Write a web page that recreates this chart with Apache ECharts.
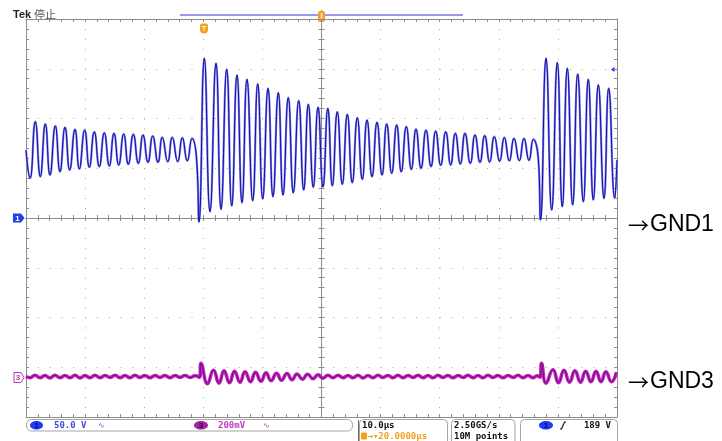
<!DOCTYPE html>
<html><head><meta charset="utf-8">
<script src="https://cdn.jsdelivr.net/npm/echarts@6/dist/echarts.min.js"></script>
<style>html,body{margin:0;padding:0;background:#fff}#c{width:722px;height:441px}</style>
</head><body><div id="c"></div>
<script>
// ---- Data ----
// Time in µs relative to trigger (screen spans -30 .. 70 µs, 10 µs/div)
const ch1VoltsPerDiv = 50;      // CH1 50.0 V/div, ground on centre line
const ch1GroundDiv = 0;
const ch3MilliVoltsPerDiv = 200; // CH3 200 mV/div
const ch3GroundDiv = -3.2;

const ch1Time = [-30.00,-29.32,-28.43,-27.58,-26.73,-25.94,-25.04,-24.25,-23.40,-22.61,
 -21.71,-20.98,-20.07,-19.29,-18.44,-17.60,-16.75,-15.91,-15.11,-14.31,
 -13.47,-12.69,-11.84,-11.00,-10.20,-9.36,-8.56,-7.66,-6.94,-6.02,
 -5.25,-4.33,-3.55,-2.71,-1.91,-1.15,-0.73,0.17,
 1.13,2.15,3.00,3.96,4.81,5.70,6.55,7.39,8.36,9.21,
 10.05,10.95,11.79,12.69,13.49,14.38,15.23,16.14,16.99,17.77,
 18.61,19.41,20.25,21.07,21.83,22.67,23.52,24.37,25.21,26.06,
 26.90,27.70,28.55,29.39,30.24,31.03,31.88,32.72,33.50,34.35,
 35.20,35.99,36.84,37.68,38.53,39.32,40.17,41.02,41.86,42.64,
 43.49,44.28,45.18,45.97,46.82,47.61,48.46,49.24,50.15,50.93,
 51.78,52.57,53.47,54.26,55.11,55.84,56.68,57.06,57.99,
 58.95,59.90,60.74,61.59,62.50,63.35,64.30,65.14,65.99,66.84,
 67.80,68.60,69.61,70.00];
const ch1Volt = [68.3,39.9,96.8,41.5,94.5,43.2,92.5,46.5,91.2,48.2,
 89.1,49.2,88.4,51.0,86.7,51.6,85.7,52.3,85.1,53.3,
 84.4,54.0,84.1,55.0,83.4,56.0,82.4,56.0,81.1,56.6,
 81.1,56.6,80.7,57.3,80.1,60.3,-4.0,160.5,
 6.3,155.5,8.7,149.4,12.1,143.7,15.4,139.4,17.4,134.7,
 19.1,130.3,21.4,125.9,23.1,120.9,25.4,117.9,28.1,114.3,
 30.9,111.3,31.2,110.2,32.4,106.8,33.9,104.2,35.5,100.8,
 38.9,98.5,41.5,96.2,43.2,94.5,44.9,93.5,46.5,91.8,
 48.9,89.4,49.9,88.4,51.6,87.4,53.0,86.7,53.3,85.1,
 54.3,85.1,55.0,83.4,56.0,82.7,56.3,81.7,57.0,81.1,
 57.3,80.1,57.6,80.1,58.0,79.1,60.0,-2.0,160.5,
 8.0,156.1,11.4,150.4,13.1,144.7,16.4,139.4,18.1,133.7,
 19.8,130.3,20.1,58.3];

const ch3Time = [-30.00,-29.32,-28.48,-27.63,-26.79,-25.94,-25.09,-24.25,-23.40,-22.55,
 -21.71,-20.86,-20.02,-19.17,-18.32,-17.48,-16.63,-15.79,-14.94,-14.09,
 -13.25,-12.40,-11.56,-10.71,-9.86,-9.02,-8.17,-7.33,-6.48,-5.63,
 -4.79,-3.94,-3.10,-2.25,-1.40,-0.64,-0.39,
 0.71,1.73,2.66,3.50,4.43,5.28,6.21,7.06,7.99,8.83,
 9.76,10.61,11.46,12.39,13.23,14.16,15.01,15.85,16.79,17.63,
 18.56,19.41,20.25,21.10,21.95,22.79,23.64,24.48,25.33,26.18,
 27.02,27.87,28.71,29.56,30.41,31.25,32.10,32.94,33.79,34.64,
 35.48,36.33,37.17,38.02,38.87,39.71,40.56,41.40,42.25,43.10,
 43.94,44.79,45.63,46.48,47.33,48.17,49.02,49.86,50.71,51.56,
 52.40,53.25,54.09,54.94,55.79,56.46,56.97,57.23,57.99,59.17,
 60.10,61.03,61.96,62.89,63.82,64.70,65.60,66.45,67.29,68.12,
 69.05,69.90];
const ch3mV = [3.0,-2.0,8.0,-2.0,7.0,-3.0,8.0,-2.0,7.0,-2.0,
 8.0,-3.0,7.0,-2.0,8.0,-2.0,7.0,-1.0,8.0,-2.0,
 7.0,-2.0,8.0,-1.0,7.0,-2.0,7.0,-1.0,7.0,-2.0,
 7.0,-1.0,7.0,-1.0,6.0,0.0,56.3,
 -26.1,28.1,-24.1,26.1,-22.1,24.1,-20.1,22.1,-18.1,20.1,
 -16.1,18.1,-14.1,16.1,-12.1,15.1,-10.1,13.1,-8.0,12.1,
 -6.0,10.1,-4.0,8.0,-2.0,8.0,-2.0,7.0,-2.0,8.0,
 -3.0,7.0,-2.0,8.0,-1.0,7.0,-2.0,8.0,-2.0,7.0,
 -1.0,8.0,-2.0,7.0,-2.0,8.0,-1.0,7.0,-2.0,7.0,
 -1.0,8.0,-2.0,7.0,-2.0,8.0,-1.0,7.0,-2.0,7.0,
 -1.0,8.0,-2.0,7.0,-2.0,6.0,0.0,56.3,-24.1,30.2,
 -22.1,28.1,-20.1,26.1,-20.1,24.1,-18.1,24.1,-18.1,22.1,
 -18.1,20.1];

const timeMin = -30, timeMax = 70, timeDiv = 10, timeMinor = 2;
const divMin = -4, divMax = 4, divMinor = 0.2;

// ---- Chart ----
const chart = echarts.init(document.getElementById('c'), null, {renderer: 'canvas'});
const G = {left: 26, top: 19, width: 591, height: 398};
const grey = '#8d8d8d';

function frameAxis(gi, pos, min, max, interval, opts) {
  opts = opts || {};
  return Object.assign({
    type: 'value', gridIndex: gi, position: pos, min: min, max: max, interval: interval,
    axisLine: {show: true, onZero: false, lineStyle: {color: grey, width: 1}},
    axisTick: {show: true, inside: true, length: 3, lineStyle: {color: grey, width: 1}},
    axisLabel: {show: false}, splitLine: {show: false}
  }, opts);
}
function hiddenAxis(gi, min, max) {
  return {type: 'value', gridIndex: gi, min: min, max: max, show: false};
}

const ch1Data = ch1Time.map((t, i) => [t, ch1Volt[i] / ch1VoltsPerDiv + ch1GroundDiv]);
const ch3Data = ch3Time.map((t, i) => [t, ch3mV[i] / ch3MilliVoltsPerDiv + ch3GroundDiv]);
const timeCentre = (timeMin + timeMax) / 2;

const grids = [
  Object.assign({}, G), Object.assign({}, G), Object.assign({}, G),
  {left: G.left, top: G.top, width: G.width, height: G.height / 2},
  {left: G.left, top: G.top + G.height / 2, width: G.width, height: G.height / 2},
  {left: G.left, top: G.top, width: G.width / 2, height: G.height},
  {left: G.left + G.width / 2, top: G.top, width: G.width / 2, height: G.height}
].map(g => Object.assign(g, {show: false, containLabel: false, outerBoundsMode: 'none'}));

const xAxes = [
  frameAxis(0, 'bottom', timeMin, timeMax, timeMinor),
  frameAxis(1, 'top', timeMin, timeMax, timeMinor),
  {type: 'value', gridIndex: 2, position: 'bottom', min: timeMin, max: timeMax, interval: timeDiv,
   axisLine: {show: false}, axisTick: {show: false}, axisLabel: {show: false},
   splitLine: {show: true, lineStyle: {color: '#a9a9a9', width: 1, type: [1, 8.95]}}},
  frameAxis(3, 'bottom', timeMin, timeMax, timeMinor),
  frameAxis(4, 'top', timeMin, timeMax, timeMinor),
  hiddenAxis(5, timeMin, timeCentre),
  hiddenAxis(6, timeCentre, timeMax)
];
const yAxes = [
  frameAxis(0, 'left', divMin, divMax, divMinor),
  frameAxis(1, 'right', divMin, divMax, divMinor),
  {type: 'value', gridIndex: 2, position: 'left', min: divMin, max: divMax, interval: 1,
   axisLine: {show: false}, axisTick: {show: false}, axisLabel: {show: false},
   splitLine: {show: true, lineStyle: {color: '#a9a9a9', width: 1, type: [1, 10.82]}}},
  hiddenAxis(3, 0, divMax),
  hiddenAxis(4, divMin, 0),
  frameAxis(5, 'right', divMin, divMax, divMinor),
  frameAxis(6, 'left', divMin, divMax, divMinor)
];

const txt = (x, y, s, style) => ({type: 'text', x: x, y: y, silent: true,
  style: Object.assign({text: s, fill: '#000', font: '10px "Liberation Sans"', textVerticalAlign: 'middle'}, style || {})});
const mono = 'bold 9px "DejaVu Sans Mono"';
const boxStroke = '#a6a6a6';

const graphics = [
  // header
  txt(13, 15, 'Tek', {font: 'bold 11px "Liberation Sans"', fill: '#222'}),
  txt(34, 15, '停止', {font: '11px "Noto Sans CJK SC"', fill: '#555'}),
  {type: 'line', shape: {x1: 180, y1: 15, x2: 463, y2: 15}, style: {stroke: '#7676ee', lineWidth: 1.5}, silent: true},
  // horizontal position marker (top centre)
  {type: 'line', shape: {x1: 321.5, y1: 10, x2: 321.5, y2: 23}, style: {stroke: '#888', lineWidth: 1}, silent: true},
  {type: 'rect', shape: {x: 318, y: 11, width: 7, height: 11, r: 2}, style: {fill: '#f2a02a'}, silent: true},
  {type: 'rect', shape: {x: 320.6, y: 13, width: 1.8, height: 7}, style: {fill: '#fde2b0'}, silent: true},
  // trigger position marker
  {type: 'rect', shape: {x: 200, y: 23.5, width: 8, height: 10, r: [2, 2, 4, 4]}, style: {fill: '#f5a01e'}, silent: true},
  txt(204, 28.5, 'T', {font: 'bold 8px "Liberation Sans"', fill: '#fff3d6', textAlign: 'center'}),
  // trigger level arrow (right)
  {type: 'polygon', shape: {points: [[611, 69.5], [614.5, 67], [614.5, 72]]}, style: {fill: '#2b2bf0'}, silent: true},
  {type: 'line', shape: {x1: 613, y1: 69.5, x2: 617, y2: 69.5}, style: {stroke: '#2b2bf0', lineWidth: 1.2}, silent: true},
  // CH1 ground marker
  {type: 'polygon', shape: {points: [[13, 213.5], [21, 213.5], [24.5, 218], [21, 222.5], [13, 222.5]]}, style: {fill: '#1f3fe8'}, silent: true},
  txt(17.5, 218.3, '1', {font: 'bold 8px "Liberation Sans"', fill: '#fff', textAlign: 'center'}),
  // CH3 ground marker
  {type: 'polygon', shape: {points: [[14, 372.5], [21, 372.5], [24, 377.5], [21, 382.5], [14, 382.5]]}, style: {fill: '#fff', stroke: '#c030c0', lineWidth: 1}, silent: true},
  txt(18, 377.8, '3', {font: 'bold 8px "Liberation Sans"', fill: '#c030c0', textAlign: 'center'}),
  // GND annotations
  txt(628, 225, '→', {font: '21px "Noto Sans CJK SC"', fill: '#000'}),
  txt(650, 225, 'GND1', {font: '23px "Liberation Sans"', fill: '#000'}),
  txt(628, 382, '→', {font: '21px "Noto Sans CJK SC"', fill: '#000'}),
  txt(650, 382, 'GND3', {font: '23px "Liberation Sans"', fill: '#000'}),
  // status bar box 1 (channels)
  {type: 'rect', shape: {x: 26.5, y: 419.5, width: 326, height: 11.5, r: 5}, style: {fill: 'none', stroke: boxStroke, lineWidth: 1}, silent: true},
  {type: 'ellipse', shape: {cx: 36.5, cy: 425.3, rx: 6.5, ry: 4.3}, style: {fill: '#1e3cf5'}, silent: true},
  txt(36.5, 425.6, '1', {font: 'bold 8px "Liberation Sans"', fill: '#0a0a50', textAlign: 'center'}),
  txt(54, 425.6, '50.0 V', {font: mono, fill: '#4646e8'}),
  txt(98, 425.6, '∿', {font: '8px "DejaVu Sans"', fill: '#5a5ae8'}),
  {type: 'ellipse', shape: {cx: 201, cy: 425.3, rx: 7, ry: 4.3}, style: {fill: '#a226a2'}, silent: true},
  txt(201, 425.6, '3', {font: 'bold 8px "Liberation Sans"', fill: '#2a002a', textAlign: 'center'}),
  txt(218, 425.6, '200mV', {font: mono, fill: '#c23ac2'}),
  txt(263, 425.6, '∿', {font: '8px "DejaVu Sans"', fill: '#c23ac2'}),
  // status bar box 2 (timebase)
  {type: 'line', shape: {x1: 358.5, y1: 420, x2: 358.5, y2: 441}, style: {stroke: '#666', lineWidth: 1}, silent: true},
  {type: 'rect', shape: {x: 359.5, y: 419.5, width: 88, height: 26, r: 4}, style: {fill: 'none', stroke: boxStroke, lineWidth: 1}, silent: true},
  txt(362, 425.6, '10.0µs', {font: mono, fill: '#111'}),
  {type: 'rect', shape: {x: 361, y: 432.5, width: 6, height: 7, r: 1}, style: {fill: '#f0a020'}, silent: true},
  txt(367.5, 436.4, '→▾20.0000µs', {font: mono, fill: '#f0a020'}),
  // status bar box 3 (acquisition)
  {type: 'rect', shape: {x: 451.5, y: 419.5, width: 63.5, height: 26, r: 4}, style: {fill: 'none', stroke: boxStroke, lineWidth: 1}, silent: true},
  txt(454, 425.6, '2.50GS/s', {font: mono, fill: '#111'}),
  txt(454, 436.4, '10M points', {font: mono, fill: '#111'}),
  // status bar box 4 (trigger)
  {type: 'rect', shape: {x: 520.5, y: 419.5, width: 97, height: 26, r: 4}, style: {fill: 'none', stroke: boxStroke, lineWidth: 1}, silent: true},
  {type: 'ellipse', shape: {cx: 546, cy: 425.3, rx: 7, ry: 4.3}, style: {fill: '#1e3cf5'}, silent: true},
  txt(546, 425.6, '1', {font: 'bold 8px "Liberation Sans"', fill: '#0a0a50', textAlign: 'center'}),
  {type: 'polyline', shape: {points: [[560, 429], [561.5, 429], [564.5, 422], [566, 422]]}, style: {stroke: '#111', lineWidth: 1.2, fill: 'none'}, silent: true},
  txt(611, 425.6, '189 V', {font: mono, fill: '#111', textAlign: 'right'})
];

const option = {
  animation: false,
  backgroundColor: '#ffffff',
  grid: grids,
  xAxis: xAxes,
  yAxis: yAxes,
  series: [
    {type: 'line', name: 'CH3', xAxisIndex: 0, yAxisIndex: 0, data: ch3Data, smooth: 0.5,
     showSymbol: false, lineStyle: {color: '#c21fc2', width: 3.5}, z: 3, silent: true},
    {type: 'line', name: 'CH3 core', xAxisIndex: 0, yAxisIndex: 0, data: ch3Data, smooth: 0.5,
     showSymbol: false, lineStyle: {color: '#6e0f6e', width: 1}, z: 4, silent: true},
    {type: 'line', name: 'CH1 halo', xAxisIndex: 0, yAxisIndex: 0, data: ch1Data, smooth: 0.5,
     showSymbol: false, lineStyle: {color: '#7e7ee8', width: 2.2}, z: 5, silent: true},
    {type: 'line', name: 'CH1', xAxisIndex: 0, yAxisIndex: 0, data: ch1Data, smooth: 0.5,
     showSymbol: false, lineStyle: {color: '#0e0ea8', width: 1}, z: 6, silent: true}
  ],
  graphic: graphics
};
chart.setOption(option);
</script>
</body></html>
